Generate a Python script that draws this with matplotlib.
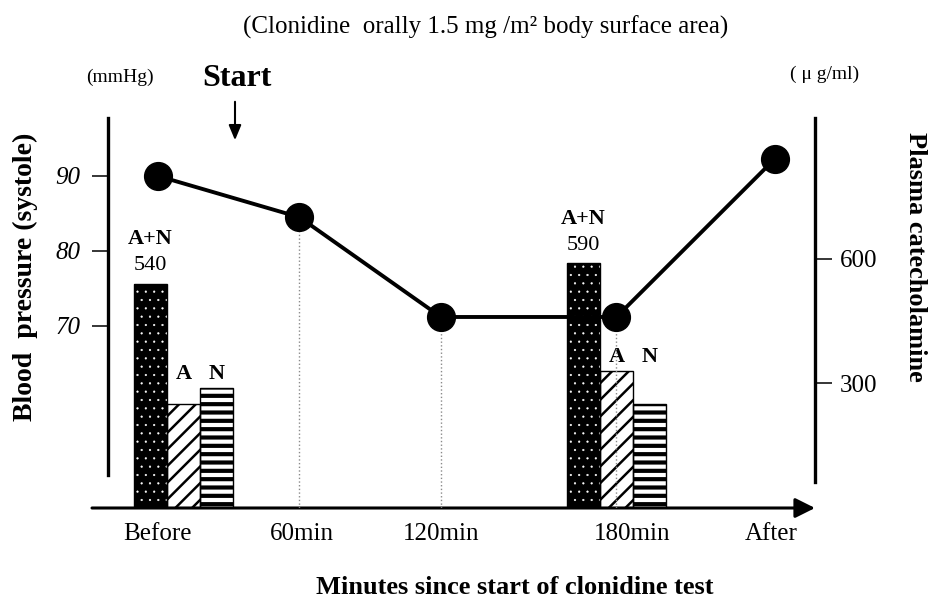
import matplotlib.pyplot as plt
from matplotlib.patches import FancyArrowPatch

plt.rcParams['font.family'] = ['Liberation Serif', 'DejaVu Serif']

# data
timepoints = ['Before', '60min', '120min', '180min', 'After']
point_x = [0, 1, 2, 3.24, 4.36]
label_x = [0, 1.02, 2, 3.35, 4.33]
systolic_bp = [90, 84.5, 71.2, 71.2, 92.3]
dotted_idx = [1, 2, 3]

group_x = [0.18, 3.24]          # Before, 180min
cat_total = [540, 590]          # A+N
cat_adrenaline = [250, 330]     # A
cat_noradrenaline = [290, 250]  # N

W, H = 930, 601
fig = plt.figure(figsize=(W / 100, H / 100), dpi=100)

# axes box in pixels: x 92..815, y 110..508
ax = fig.add_axes([92 / W, 1 - 508 / H, (815 - 92) / W, (508 - 110) / H])
ax.set_xlim(-0.466, 4.643)
ax.set_ylim(0, 959)
ax.patch.set_alpha(0)
ax_bp = ax.twinx()
ax_bp.set_ylim(45.73, 98.8)

bw = 0.235


def hatched_bar(x, h, face, edge, hatch, hlw):
    with plt.rc_context({'hatch.linewidth': hlw}):
        b = ax.bar(x, h, bw, color=face, edgecolor=edge, hatch=hatch, linewidth=0, zorder=2)
    for p in b:
        if hasattr(p, 'set_hatch_linewidth'):
            p.set_hatch_linewidth(hlw)
    ax.bar(x, h, bw, fill=False, edgecolor='black', linewidth=1, zorder=3)


xs_tot = [g - bw for g in group_x]
xs_a = list(group_x)
xs_n = [g + bw for g in group_x]
hatched_bar(xs_tot, cat_total, 'black', 'white', '..', 0.35)
hatched_bar(xs_a, cat_adrenaline, 'white', 'black', '//', 1.8)
hatched_bar(xs_n, cat_noradrenaline, 'white', 'black', '--', 3.0)

for x, v in zip(xs_tot, cat_total):
    ax.annotate(str(v), (x, v), xytext=(0, 13), textcoords='offset points',
                ha='center', va='center', fontsize=16)
    ax.annotate('A+N', (x, v), xytext=(0, 32), textcoords='offset points',
                ha='center', va='center', fontsize=16, fontweight='bold')
for xa, xn, a, n in zip(xs_a, xs_n, cat_adrenaline, cat_noradrenaline):
    top = max(a, n)
    ax.annotate('A', (xa, top), xytext=(0, 10), textcoords='offset points',
                ha='center', va='center', fontsize=16, fontweight='bold')
    ax.annotate('N', (xn, top), xytext=(0, 10), textcoords='offset points',
                ha='center', va='center', fontsize=16, fontweight='bold')

# right axis: catecholamine
for s in ['top', 'left', 'bottom']:
    ax.spines[s].set_visible(False)
ax.spines['right'].set_visible(True)
ax.spines['right'].set_linewidth(2.4)
ax.spines['right'].set_bounds(63, 940)
ax.yaxis.tick_right()
ax.set_yticks([300, 600])
ax.tick_params(axis='y', direction='out', length=12, width=1.1, pad=6, labelsize=18,
               left=False, labelleft=False, right=True, labelright=True)
ax.set_xticks(label_x)
ax.set_xticklabels(timepoints)
ax.tick_params(axis='x', length=0, pad=11, labelsize=18)

# left axis: blood pressure (drawn on top of the bars)
for s in ['top', 'right', 'bottom']:
    ax_bp.spines[s].set_visible(False)
ax_bp.spines['left'].set_visible(True)
ax_bp.spines['left'].set_position(('data', -0.353))
ax_bp.spines['left'].set_linewidth(2.4)
ax_bp.spines['left'].set_bounds(50.1, 97.7)
ax_bp.yaxis.tick_left()
ax_bp.set_yticks([70, 80, 90])
ax_bp.tick_params(axis='y', direction='out', length=11.5, width=1.1, pad=8.5, labelsize=18,
                  left=True, labelleft=True, right=False, labelright=False)
for t in ax_bp.get_yticklabels():
    t.set_fontstyle('italic')

for i in dotted_idx:
    ax_bp.vlines(point_x[i], 45.73, systolic_bp[i], colors='#8a8a8a',
                 linestyles=':', linewidth=1, zorder=1)
ax_bp.plot(point_x, systolic_bp, color='black', linewidth=2.8, marker='o',
           markersize=20, markerfacecolor='black', zorder=5)

# x axis arrow
ax.annotate('', xy=(1, 0), xytext=(0, 0), xycoords='axes fraction',
            arrowprops=dict(arrowstyle='-|>,head_length=0.6,head_width=0.3',
                            mutation_scale=20, lw=2.2, color='black',
                            shrinkA=0, shrinkB=0))

# texts
fig.text(486 / W, 1 - 27 / H, '(Clonidine  orally 1.5 mg /m² body surface area)',
         ha='center', va='center', fontsize=18)
fig.text(120 / W, 1 - 77 / H, '(mmHg)', ha='center', va='center', fontsize=14)
fig.text(825 / W, 1 - 74 / H, '( μ g/ml)', ha='center', va='center', fontsize=14)
fig.text(237 / W, 1 - 78 / H, 'Start', ha='center', va='center', fontsize=23,
         fontweight='bold')
fig.patches.append(FancyArrowPatch(
    (235 / W, 1 - 99 / H), (235 / W, 1 - 143 / H), transform=fig.transFigure,
    arrowstyle='-|>,head_length=0.6,head_width=0.25', mutation_scale=15,
    lw=1.5, color='black'))
fig.text(25 / W, 1 - 277 / H, 'Blood  pressure (systole)', rotation=90,
         ha='center', va='center', fontsize=20, fontweight='bold')
fig.text(915 / W, 1 - 257 / H, 'Plasma catecholamine', rotation=270,
         ha='center', va='center', fontsize=19, fontweight='bold')
fig.text(515 / W, 1 - 588 / H, 'Minutes since start of clonidine test',
         ha='center', va='center', fontsize=19, fontweight='bold')

fig.savefig('out.png', dpi=100)
